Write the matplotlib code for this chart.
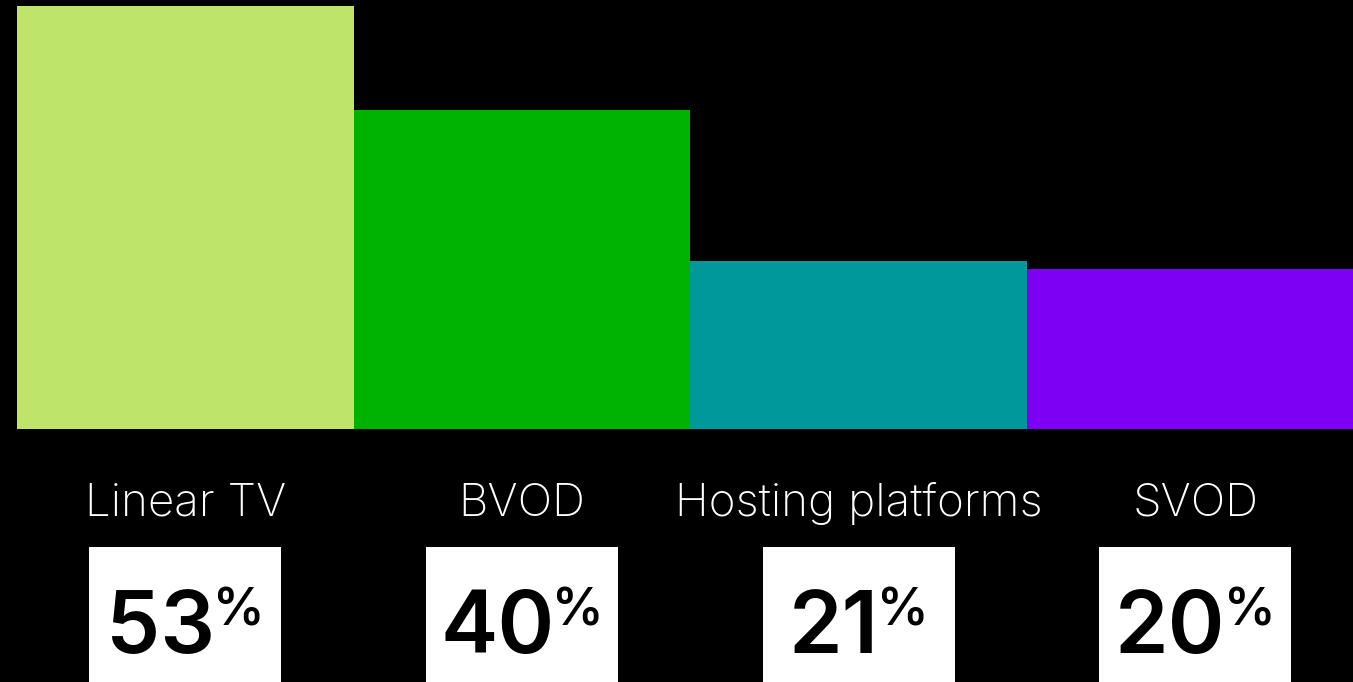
import matplotlib.pyplot as plt
from matplotlib.patches import Rectangle
import matplotlib.transforms as mtransforms

# Share of viewing by platform
categories = ["Linear TV", "BVOD", "Hosting platforms", "SVOD"]
values = [53, 40, 21, 20]
colors = ["#BEE46A", "#00B200", "#00999B", "#7D00F5"]

W, H = 1353, 682
fig = plt.figure(figsize=(W / 100, H / 100), dpi=100, facecolor="black")

# axes placed so that the bars sit on a baseline at y=429px and span from x=17px
bar_px = 336.6
left_px, base_px, top_px = 17, 429, 6
ax = fig.add_axes([left_px / W, (H - base_px) / H, 1 - left_px / W, (base_px - top_px) / H])
ax.set_facecolor("black")
ax.bar(range(len(values)), values, width=1.0, color=colors, linewidth=0)
ax.set_xlim(-0.5, (W - left_px) / bar_px - 0.5)
ax.set_ylim(0, max(values))
ax.axis("off")

trans = mtransforms.blended_transform_factory(ax.transData, fig.transFigure)
box_w = 192 / bar_px

fig.canvas.draw()
renderer = fig.canvas.get_renderer()

for i, (cat, val) in enumerate(zip(categories, values)):
    ax.text(i, (H - 516) / H, cat, transform=trans, ha="center", va="baseline",
            color="white", fontsize=33, family="Inter", weight="light", clip_on=False)
    ax.add_patch(Rectangle((i - box_w / 2, -0.1), box_w, (H - 547) / H + 0.1,
                           transform=trans, facecolor="white", edgecolor="none", clip_on=False))
    num = ax.text(i, 0.0425, str(val), transform=trans, ha="left", va="baseline",
                  color="black", fontsize=62, family="Inter", weight="semibold", clip_on=False)
    pct = ax.text(i, 0.0425, "%", transform=trans, ha="left", va="baseline",
                  color="black", fontsize=37, family="Inter", weight="semibold", clip_on=False)
    # center the number and its raised percent sign inside the box
    nw = num.get_window_extent(renderer).width
    pw = pct.get_window_extent(renderer).width
    gap = -2
    total = nw + gap + pw
    cx = ax.transData.transform((i, 0))[0]
    x0 = cx - total / 2
    num.set_transform(mtransforms.IdentityTransform())
    num.set_position((x0, H * 0.0425))
    pct.set_transform(mtransforms.IdentityTransform())
    pct.set_position((x0 + nw + gap, H - 625))

fig.savefig("out.png", dpi=100, facecolor="black")
